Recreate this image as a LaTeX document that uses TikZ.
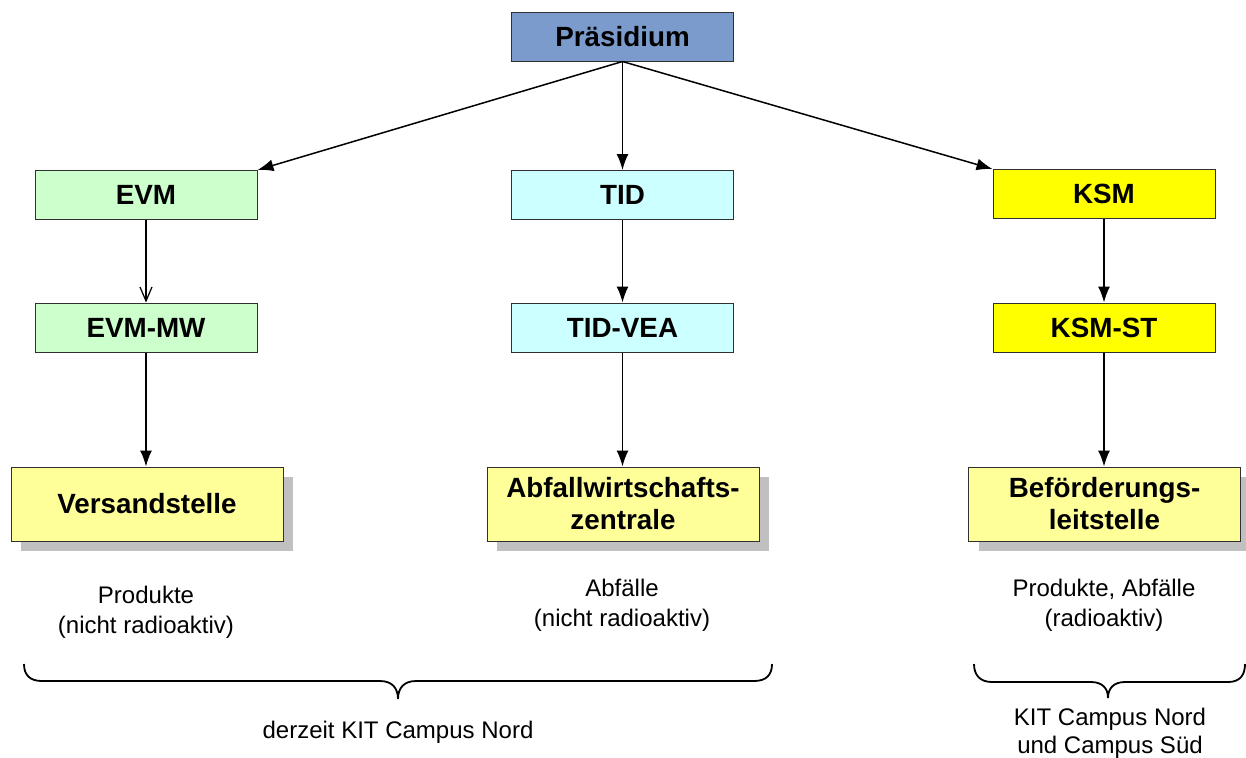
\documentclass[tikz,border=0pt]{standalone}
\usepackage{fontspec}
\setmainfont{Liberation Sans}
\usetikzlibrary{arrows.meta,shadows}
\definecolor{praes}{HTML}{7B9BCC}
\definecolor{evmc}{HTML}{CCFFCC}
\definecolor{tidc}{HTML}{CCFFFF}
\definecolor{ksmc}{HTML}{FFFF00}
\definecolor{stelle}{HTML}{FFFF99}
\definecolor{shadowc}{HTML}{C0C0C0}
\definecolor{frame}{HTML}{303030}
\begin{document}
\begin{tikzpicture}[x=0.5pt,y=-0.5pt,
  orgbox/.style={draw=frame,line width=0.5pt,minimum width=111pt,minimum height=24.5pt,inner sep=0pt,
    font=\fontsize{13.9}{16}\selectfont\bfseries},
  endbox/.style={orgbox,fill=stelle,minimum width=136pt,minimum height=37pt,align=center,
    drop shadow={shadow xshift=5pt,shadow yshift=-5pt,fill=shadowc,opacity=1}},
  conn/.style={line width=0.75pt,-{Latex[length=8pt,width=6pt]}},
  openconn/.style={line width=0.75pt,-{Straight Barb[length=7pt,width=6pt,line width=0.6pt]}},
  note/.style={align=center,font=\fontsize{12}{15}\selectfont,inner sep=0pt},
  bracel/.style={line width=0.9pt}]
\useasboundingbox (0,0) rectangle (1246,757);
\node[orgbox,fill=praes] (P) at (622.5,36.5) {Präsidium};
\node[orgbox,fill=evmc] (EVM) at (146,195) {EVM};
\node[orgbox,fill=tidc] (TID) at (622.5,195) {TID};
\node[orgbox,fill=ksmc] (KSM) at (1104,194) {KSM};
\node[orgbox,fill=evmc] (EVMMW) at (146,327.5) {EVM-MW};
\node[orgbox,fill=tidc] (TIDVEA) at (622.5,327.5) {TID-VEA};
\node[orgbox,fill=ksmc] (KSMST) at (1104,327.5) {KSM-ST};
\node[endbox] (V) at (147,504) {Versandstelle};
\node[endbox] (A) at (623,504) {Abfallwirtschafts-\\zentrale};
\node[endbox] (B) at (1104.5,504) {Beförderungs-\\leitstelle};
\draw[conn] (P.south) -- (EVM.north east);
\draw[conn] (P.south) -- (TID.north);
\draw[conn] (P.south) -- (KSM.north west);
\draw[openconn] (EVM.south) -- (EVMMW.north);
\draw[conn] (TID.south) -- (TIDVEA.north);
\draw[conn] (KSM.south) -- (KSMST.north);
\draw[conn] (EVMMW.south) -- (V.north -| EVMMW.south);
\draw[conn] (TIDVEA.south) -- (A.north -| TIDVEA.south);
\draw[conn] (KSMST.south) -- (B.north -| KSMST.south);
\node[note] (n1) at (146,612) {Produkte\\(nicht radioaktiv)};
\node[note] (n2) at (622,605) {Abfälle\\(nicht radioaktiv)};
\node[note] (n3) at (1104,605) {Produkte, Abfälle\\(radioaktiv)};
\node[note] (n4) at (398,732) {derzeit KIT Campus Nord};
\node[note,font=\fontsize{12}{14}\selectfont] (n5) at (1110,733) {KIT Campus Nord\\und Campus Süd};
\draw[bracel] (24,664) .. controls (24,675) and (30,681) .. (42,681) -- (380,681)
  .. controls (392,681) and (398,688) .. (398,699)
  .. controls (398,688) and (404,681) .. (416,681) -- (754,681)
  .. controls (766,681) and (772,675) .. (772,664);
\draw[bracel] (974,664) .. controls (974,675) and (980,682) .. (992,682) -- (1091,682)
  .. controls (1102,682) and (1108,688) .. (1108,698)
  .. controls (1108,688) and (1114,682) .. (1125,682) -- (1228,682)
  .. controls (1240,682) and (1245,675) .. (1245,664);
\end{tikzpicture}
\end{document}
